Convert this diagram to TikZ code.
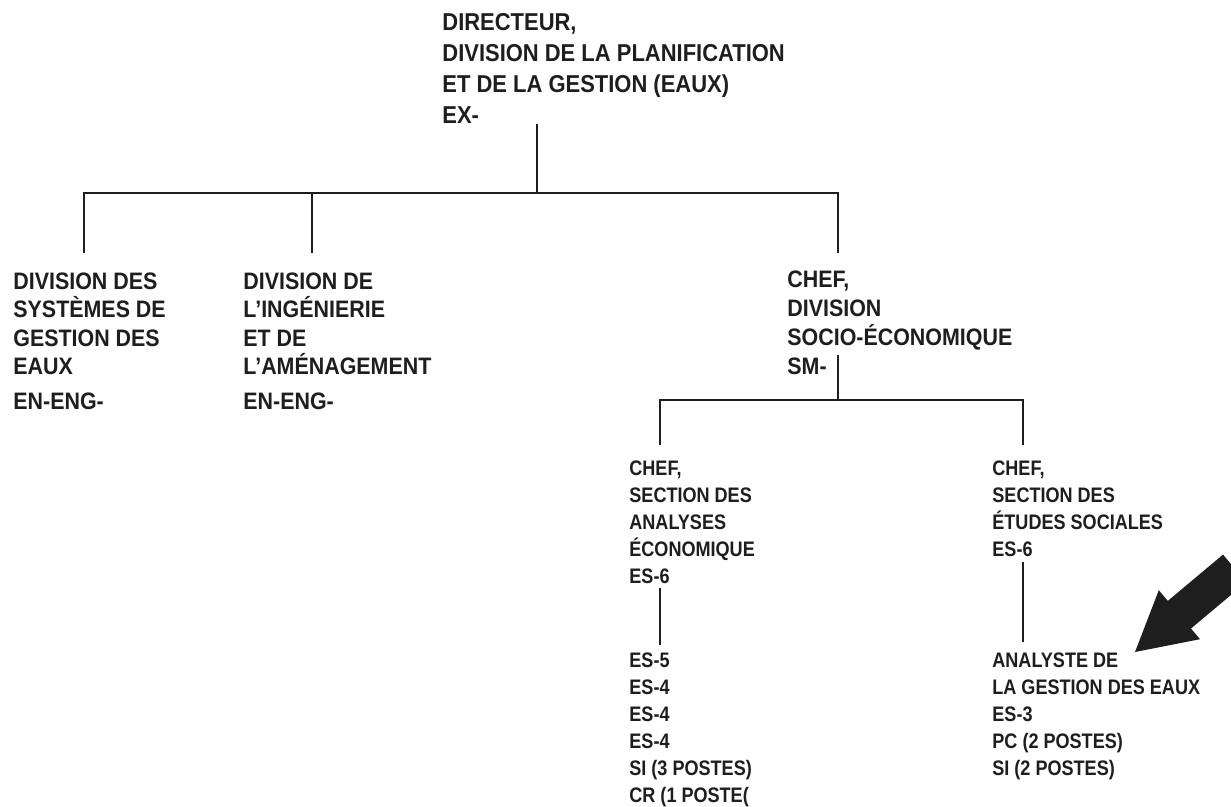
\documentclass[tikz,border=0pt]{standalone}
\usepackage{fontspec}
\setmainfont{Liberation Sans}
\newfontfamily\orgfont[FakeStretch=0.9]{Liberation Sans}
\newfontfamily\orgfontc[FakeStretch=0.86]{Liberation Sans}
\usetikzlibrary{positioning}
\definecolor{Encre}{HTML}{1E1E1E}

\tikzset{
    poste/.style={anchor=north west, inner sep=0pt, align=left, text=Encre},
    posteHaut/.style={poste, font=\orgfont\bfseries\fontsize{12.2}{15.5}\selectfont},
    posteDiv/.style={poste, font=\orgfont\bfseries\fontsize{11.9}{14.3}\selectfont},
    posteSec/.style={poste, font=\orgfontc\bfseries\fontsize{10.5}{13.55}\selectfont},
    trait/.style={draw=Encre, line width=1pt}
}

\begin{document}
\begin{tikzpicture}[x=0.5pt, y=-0.5pt]
    \clip (0,0) rectangle (1231,807);
    \fill[white] (0,0) rectangle (1231,807);

    % direction
    \node[posteHaut] (dir) at (442,13) {DIRECTEUR,\\
        DIVISION DE LA PLANIFICATION\\
        ET DE LA GESTION (EAUX)\\
        EX-};

    % divisions
    \node[posteDiv] (sgeaux) at (13,272) {DIVISION DES\\
        SYSTÈMES DE\\
        GESTION DES\\
        EAUX\\[3pt]
        EN-ENG-};
    \node[posteDiv] (ingen) at (243,272) {DIVISION DE\\
        L’INGÉNIERIE\\
        ET DE\\
        L’AMÉNAGEMENT\\[3pt]
        EN-ENG-};
    \node[posteDiv, font=\orgfont\bfseries\fontsize{11.9}{14.6}\selectfont] (chefdiv) at (787,270) {CHEF,\\
        DIVISION\\
        SOCIO-ÉCONOMIQUE\\
        SM-};

    % sections
    \node[posteSec] (secana) at (629,460) {CHEF,\\
        SECTION DES\\
        ANALYSES\\
        ÉCONOMIQUE\\
        ES-6};
    \node[posteSec] (etsoc) at (992,460) {CHEF,\\
        SECTION DES\\
        ÉTUDES SOCIALES\\
        ES-6};
    \node[posteSec] (postes) at (629,652) {ES-5\\
        ES-4\\
        ES-4\\
        ES-4\\
        SI (3 POSTES)\\
        CR (1 POSTE(};
    \node[posteSec] (analyste) at (992,652) {ANALYSTE DE\\
        LA GESTION DES EAUX\\
        ES-3\\
        PC (2 POSTES)\\
        SI (2 POSTES)};

    % points de jonction
    \coordinate (dirpied) at (537,124);
    \coordinate (barre) at (537,193);
    \coordinate (sgeauxtete) at (84,253);
    \coordinate (ingentete) at (312,253);
    \coordinate (chefdivtete) at (838,253);
    \coordinate (chefdivpied) at (838,355);
    \coordinate (barredeux) at (838,400);
    \coordinate (secanatete) at (660,445);
    \coordinate (etsoctete) at (1023,445);
    \coordinate (secanapied) at (660,588);
    \coordinate (postestete) at (660,645);
    \coordinate (etsocpied) at (1023,562);
    \coordinate (analystetete) at (1023,642);

    \draw[trait] (dirpied) -- (barre);
    \draw[trait] (sgeauxtete) |- (chefdivtete |- barre) -- (chefdivtete);
    \draw[trait] (ingentete) -- (ingentete |- barre);
    \draw[trait] (chefdivpied) -- (barredeux);
    \draw[trait] (secanatete) |- (etsoctete |- barredeux) -- (etsoctete);
    \draw[trait] (secanapied) -- (postestete);
    \draw[trait] (etsocpied) -- (analystetete);

    % fleche
    \fill[Encre] (1135,652) -- (1158.8,590.2) -- (1167.8,600.9)
        -- (1223.0,554.6) -- (1246.2,582.2) -- (1191.0,628.5)
        -- (1200.0,639.2) -- cycle;
\end{tikzpicture}
\end{document}
